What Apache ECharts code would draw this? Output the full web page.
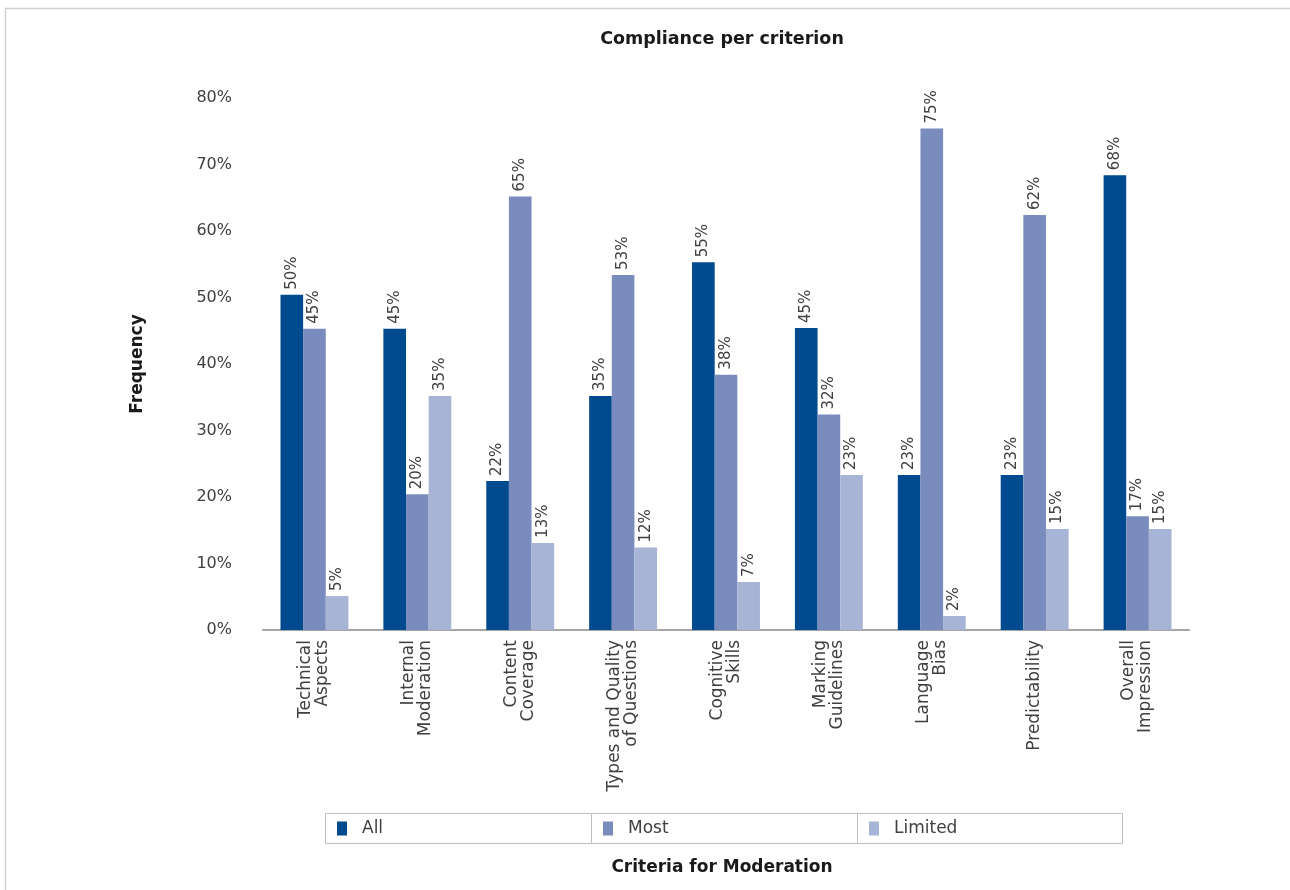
<!DOCTYPE html>
<html>
<head>
<meta charset="utf-8">
<script src="https://cdn.jsdelivr.net/npm/echarts@6/dist/echarts.min.js"></script>
<style>
html,body{margin:0;padding:0;background:#fff;}
#chart{width:1290px;height:890px;}
</style>
</head>
<body>
<div id="chart"></div>
<script>
const categories = [
  'Technical\nAspects',
  'Internal\nModeration',
  'Content\nCoverage',
  'Types and Quality\nof Questions',
  'Cognitive\nSkills',
  'Marking\nGuidelines',
  'Language\nBias',
  'Predictability',
  'Overall\nImpression'
];
const seriesNames = ['All', 'Most', 'Limited'];
const allValues     = [50.4, 45.3, 22.4, 35.2, 55.3, 45.4, 23.3, 23.3, 68.4];
const mostValues    = [45.3, 20.4, 65.2, 53.4, 38.4, 32.4, 75.4, 62.4, 17.1];
const limitedValues = [5.1, 35.2, 13.1, 12.4, 7.2, 23.3, 2.1, 15.2, 15.2];
const colors = ['#004A8F', '#7A8CBD', '#A7B4D6'];
const yTicks = { min: 0, max: 80, interval: 10 };

const chart = echarts.init(document.getElementById('chart'), null, { renderer: 'canvas' });
const FONT = 'DejaVu Sans';
const BOLD = 'DejaVu Sans';

function barSeries(name, data, color) {
  return {
    name: name,
    type: 'bar',
    data: data,
    barGap: '0%',
    barCategoryGap: '34%',
    itemStyle: { color: color },
    label: {
      show: true,
      position: 'top',
      rotate: 90,
      align: 'left',
      verticalAlign: 'middle',
      distance: 5,
      fontFamily: FONT,
      fontSize: 15,
      color: '#404040',
      formatter: p => Math.round(p.value) + '%'
    }
  };
}

function legendAt(name, left) {
  return {
    data: [name],
    left: left,
    top: 820,
    icon: 'rect',
    itemWidth: 10,
    itemHeight: 14,
    itemGap: 0,
    padding: 0,
    textStyle: { fontFamily: FONT, fontSize: 17, color: '#404040', padding: [0, 0, 0, 10] }
  };
}

const option = {
  backgroundColor: '#ffffff',
  animation: false,
  title: [{
    text: 'Compliance per criterion',
    left: 717,
    top: 25,
    textAlign: 'center',
    textStyle: { fontFamily: BOLD, fontWeight: 'bold', fontSize: 17.5, color: '#1a1a1a' }
  }, {
    text: 'Criteria for Moderation',
    left: 717,
    top: 854,
    textAlign: 'center',
    textStyle: { fontFamily: BOLD, fontWeight: 'bold', fontSize: 17, color: '#1a1a1a' }
  }],
  legend: [legendAt('All', 337), legendAt('Most', 603), legendAt('Limited', 869)],
  grid: { left: 263, right: 101, top: 98, bottom: 260, containLabel: false },
  xAxis: {
    type: 'category',
    data: categories,
    axisLine: { show: true, lineStyle: { color: '#a6a6a6', width: 2 } },
    axisTick: { show: false },
    axisLabel: {
      interval: 0,
      rotate: 90,
      margin: 10,
      fontFamily: FONT,
      fontSize: 17,
      lineHeight: 17,
      color: '#404040'
    }
  },
  yAxis: {
    type: 'value',
    min: yTicks.min,
    max: yTicks.max,
    interval: yTicks.interval,
    name: 'Frequency',
    nameLocation: 'middle',
    nameRotate: 90,
    nameGap: 117,
    nameTextStyle: { fontFamily: BOLD, fontWeight: 'bold', fontSize: 17, color: '#1a1a1a' },
    axisLine: { show: false },
    axisTick: { show: false },
    splitLine: { show: false },
    axisLabel: {
      margin: 31,
      fontFamily: FONT,
      fontSize: 16,
      color: '#404040',
      formatter: '{value}%'
    }
  },
  graphic: [
    {
      type: 'rect', silent: true, z: -1,
      shape: { x: 5.5, y: 8.5, width: 1400, height: 1000 },
      style: { fill: 'none', stroke: '#d0d0d0', lineWidth: 1.5 }
    },
    {
      type: 'rect', silent: true,
      shape: { x: 325.5, y: 813.5, width: 797, height: 30 },
      style: { fill: 'none', stroke: '#bfbfbf', lineWidth: 1 }
    },
    {
      type: 'line', silent: true,
      shape: { x1: 591.5, y1: 813.5, x2: 591.5, y2: 843.5 },
      style: { stroke: '#bfbfbf', lineWidth: 1 }
    },
    {
      type: 'line', silent: true,
      shape: { x1: 857.5, y1: 813.5, x2: 857.5, y2: 843.5 },
      style: { stroke: '#bfbfbf', lineWidth: 1 }
    }
  ],
  series: [
    barSeries(seriesNames[0], allValues, colors[0]),
    barSeries(seriesNames[1], mostValues, colors[1]),
    barSeries(seriesNames[2], limitedValues, colors[2])
  ]
};
chart.setOption(option);
</script>
</body>
</html>
